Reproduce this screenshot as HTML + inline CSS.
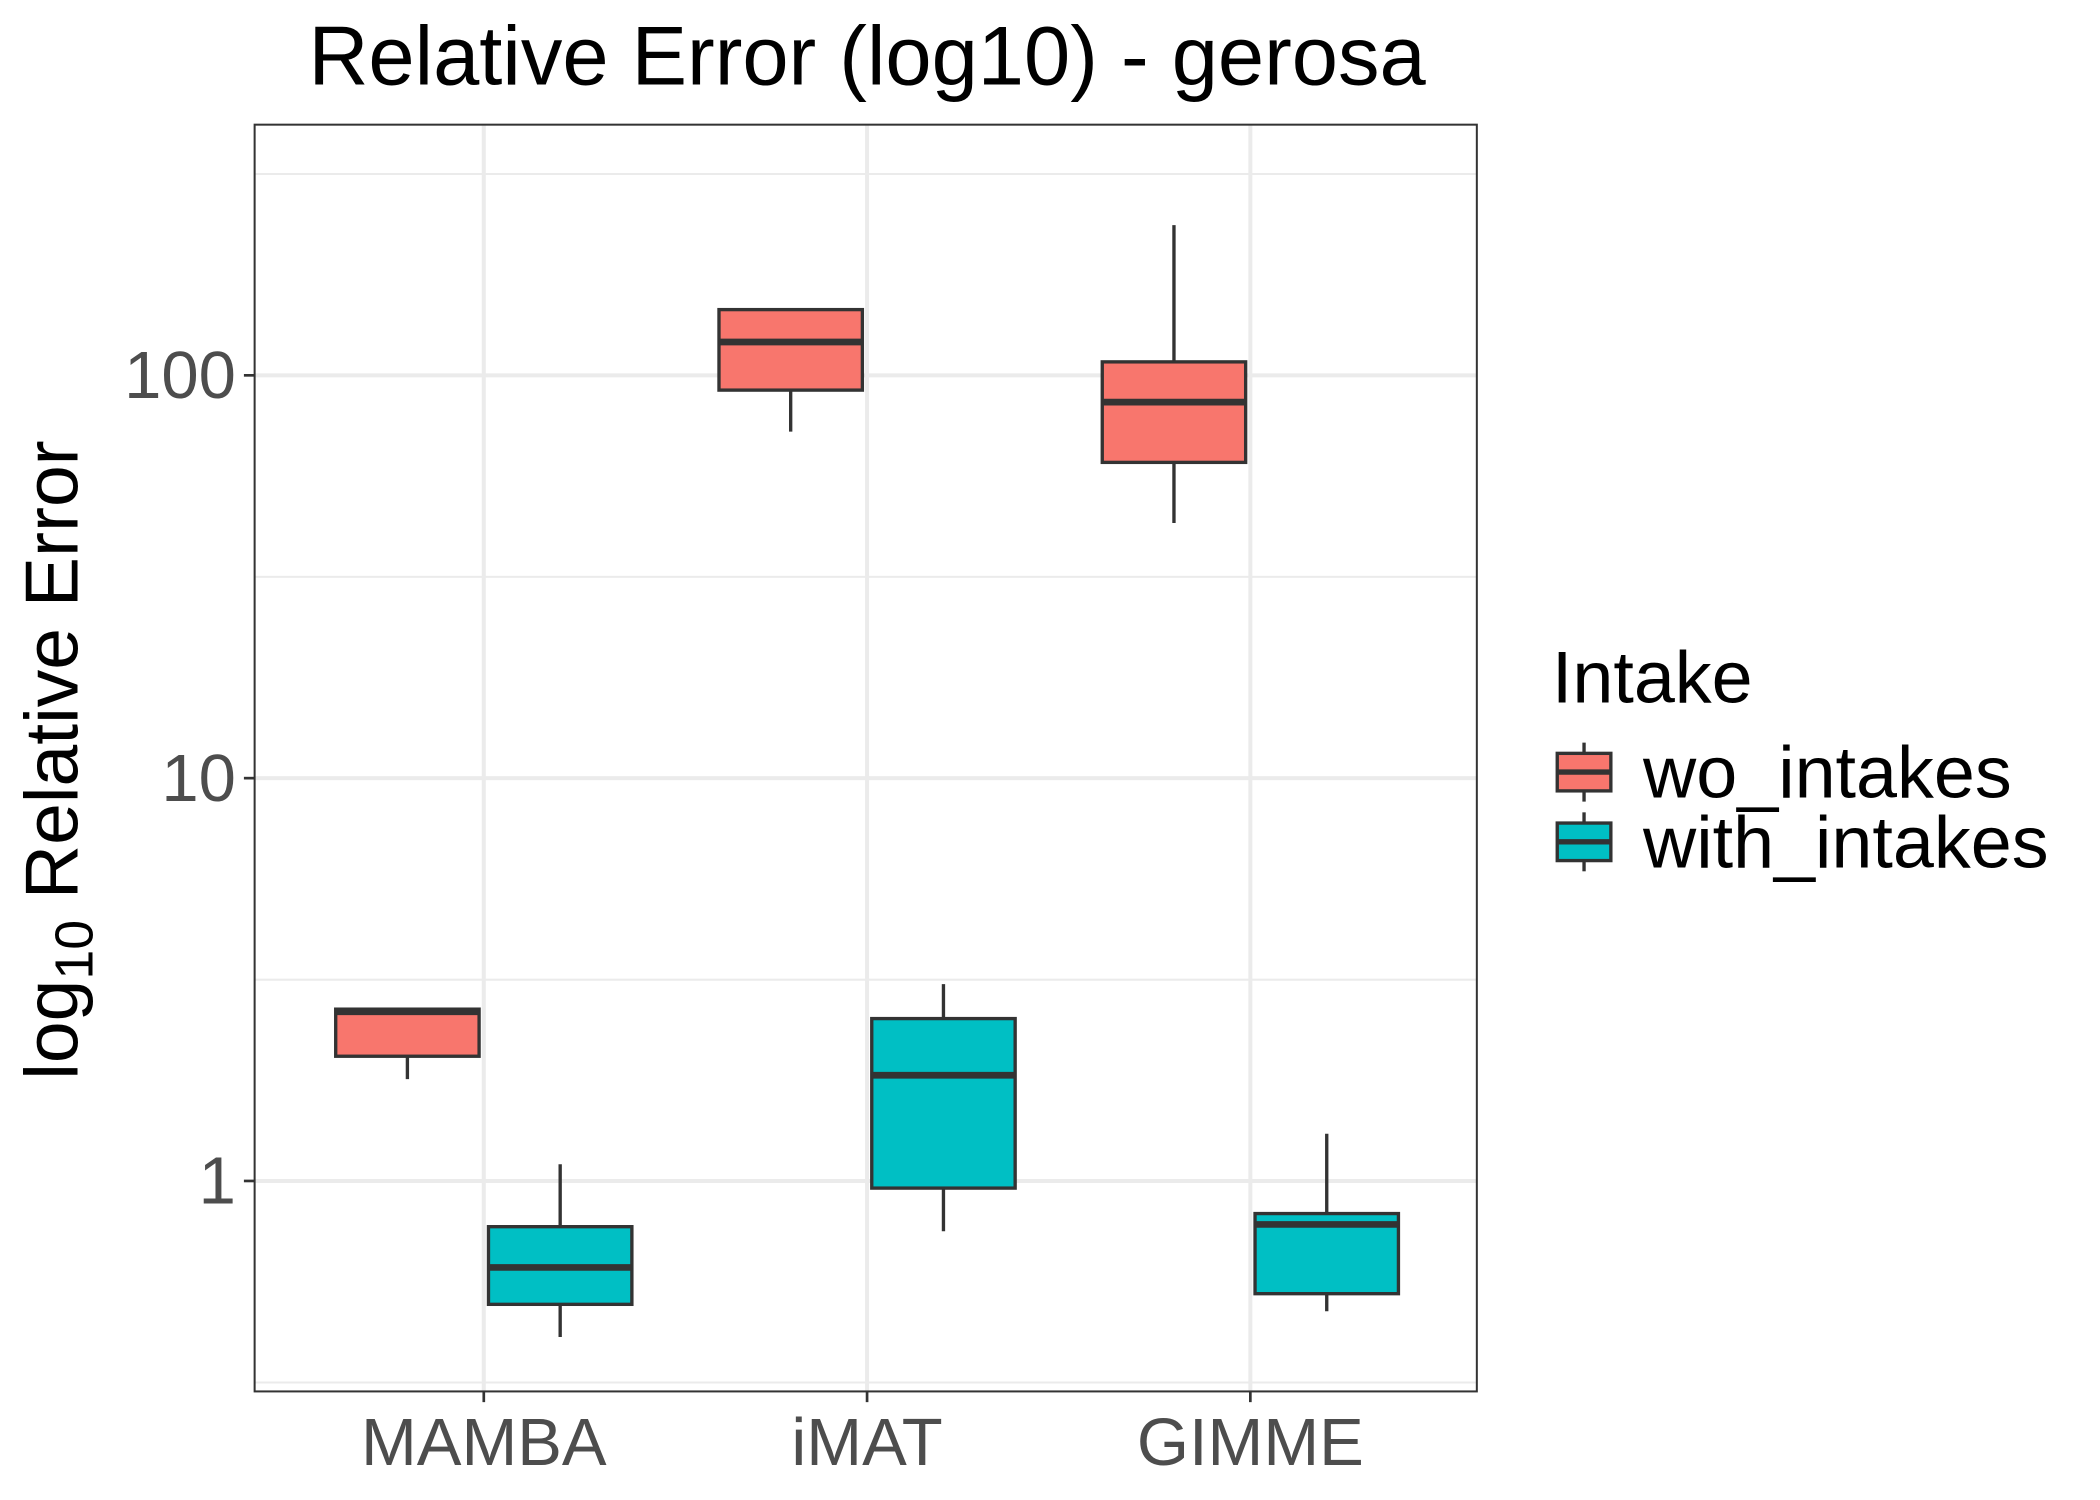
<!DOCTYPE html>
<html><head><meta charset="utf-8"><style>html,body{margin:0;padding:0;background:#fff}svg{display:block}text{font-family:"Liberation Sans",sans-serif}</style></head>
<body>
<svg id="chart" width="2100" height="1500" viewBox="0 0 1567 1119" preserveAspectRatio="none" xmlns="http://www.w3.org/2000/svg">
<rect width="1567" height="1119" fill="#fff"/>
<text x="647" y="63" font-size="62" text-anchor="middle">Relative Error (log10) - gerosa</text>
<g id="grid"></g>
<g id="marks"></g>
<rect x="190" y="93" width="912" height="945" fill="none" stroke="#333" stroke-width="1.5"/>
<g id="axes"></g>
<text transform="translate(58,567) rotate(-90)" font-size="56" text-anchor="middle">log<tspan font-size="40" dy="11">10</tspan><tspan dy="-11"> Relative Error</tspan></text>
<g>
<text x="1158" y="524" font-size="55">Intake</text>
<g>
<line x1="1182" y1="554" x2="1182" y2="598" stroke="#333" stroke-width="2.5"/>
<rect x="1162" y="562" width="40" height="28" fill="#F8766D" stroke="#333" stroke-width="2.5"/>
<line x1="1162" y1="576" x2="1202" y2="576" stroke="#333" stroke-width="4"/>
<text x="1226" y="595" font-size="55">wo_intakes</text></g>
<g>
<line x1="1182" y1="606" x2="1182" y2="650" stroke="#333" stroke-width="2.5"/>
<rect x="1162" y="614" width="40" height="28" fill="#00BFC4" stroke="#333" stroke-width="2.5"/>
<line x1="1162" y1="628" x2="1202" y2="628" stroke="#333" stroke-width="4"/>
<text x="1226" y="647" font-size="55">with_intakes</text></g>
</g>
</svg>
<script>
const categories = ["MAMBA","iMAT","GIMME"];
const groups = ["wo_intakes","with_intakes"];
const colors = ["#F8766D","#00BFC4"];
// [low, q1, median, q3, high]
const woStats = [[1.79,2.04,2.63,2.67,2.67],[72.5,91.9,121,145.6,145.6],[43.0,60.8,85.8,108,236]];
const withStats = [[0.41,0.494,0.61,0.77,1.10],[0.75,0.96,1.83,2.53,3.08],[0.475,0.525,0.78,0.83,1.31]];
const yTicks = [1,10,100];
const yTickLabels = ["1","10","100"];
const yMinor = [0.316,3.16,31.6,316];

const NS="http://www.w3.org/2000/svg";
const y = v => 881 - 300.5*Math.log10(v);
const x = i => 361 + 286*i;
function mk(tag, attrs, parent){const e=document.createElementNS(NS,tag);for(const k in attrs)e.setAttribute(k,attrs[k]);parent.appendChild(e);return e;}
const grid=document.getElementById('grid'), marks=document.getElementById('marks'), axes=document.getElementById('axes');
yMinor.forEach(v=>{const l=mk('line',{x1:190,x2:1102,y1:y(v),y2:y(v),stroke:'#ebebeb','stroke-width':1.5},grid);

});
yTicks.forEach((v,i)=>{const l=mk('line',{x1:190,x2:1102,y1:y(v),y2:y(v),stroke:'#ebebeb','stroke-width':3},grid);


const t=mk('line',{x1:182,x2:190,y1:y(v),y2:y(v),stroke:'#333','stroke-width':2},axes);


const tx=mk('text',{x:176,y:y(v)+17,'font-size':50,'text-anchor':'end',fill:'#4d4d4d'},axes);tx.textContent=yTickLabels[i];

});
categories.forEach((c,i)=>{const l=mk('line',{x1:x(i),x2:x(i),y1:93,y2:1038,stroke:'#ebebeb','stroke-width':3},grid);


const t=mk('line',{x1:x(i),x2:x(i),y1:1038,y2:1046,stroke:'#333','stroke-width':2},axes);


const tx=mk('text',{x:x(i),y:1093,'font-size':50,'text-anchor':'middle',fill:'#4d4d4d'},axes);tx.textContent=c;

});
[woStats,withStats].forEach((stats,g)=>{stats.forEach((s,i)=>{
const cx=x(i)+(g===0?-57:57), hw=53.5;
const grp=mk('g',{},marks);


mk('line',{x1:cx,x2:cx,y1:y(s[4]),y2:y(s[0]),stroke:'#333','stroke-width':2.5},grp);
mk('rect',{x:cx-hw,y:y(s[3]),width:2*hw,height:y(s[1])-y(s[3]),fill:colors[g],stroke:'#333','stroke-width':2.5},grp);
mk('line',{x1:cx-hw,x2:cx+hw,y1:y(s[2]),y2:y(s[2]),stroke:'#333','stroke-width':5},grp);
});});
</script>
</body></html>
